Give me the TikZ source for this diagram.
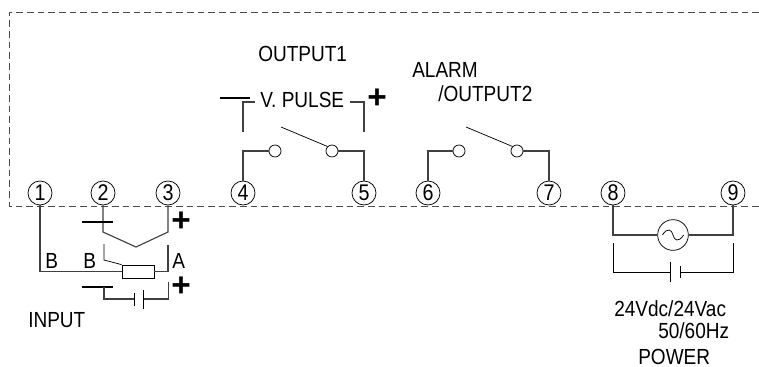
\documentclass[tikz,border=0pt]{standalone}
\usepackage{fontspec}
\setmainfont{Liberation Sans}
\newfontfamily\lbl[FakeStretch=0.87]{Liberation Sans}
\tikzset{
  x=0.75pt,y=-0.75pt,
  wire/.style={draw=black!75,line width=0.85pt},
  thin wire/.style={draw=black,line width=0.55pt},
  heavy/.style={draw=black,line width=2.1pt},
  term/.style={circle,draw=black,line width=0.55pt,fill=white,minimum size=18pt,inner sep=0pt,font=\lbl\fontsize{17}{17}\selectfont},
  contact/.style={circle,draw=black,line width=0.55pt,fill=white,minimum size=9pt,inner sep=0pt},
  lab/.style={inner sep=0pt,font=\lbl\fontsize{16.4}{18}\selectfont,anchor=base west},
  plus/.style={inner sep=0pt,font=\fontsize{25}{25}\bfseries\selectfont}
}
\begin{document}
\begin{tikzpicture}
\useasboundingbox (0,0) rectangle (759,367);
\draw[black!70,line width=0.75pt,dash pattern=on 5pt off 3pt] (759,12.5) -- (9.5,12.5) -- (9.5,206) -- (759,206);
% terminals
\node[term] (t1) at (40,193) {1};
\node[term] (t2) at (103,193) {2};
\node[term] (t3) at (168,193) {3};
\node[term] (t4) at (243,193) {4};
\node[term] (t5) at (364,193) {5};
\node[term] (t6) at (428,193) {6};
\node[term] (t7) at (549,193) {7};
\node[term] (t8) at (613,193) {8};
\node[term] (t9) at (733,193) {9};
% input
\node[draw=black,line width=0.55pt,fill=white,minimum width=24pt,minimum height=9.75pt,inner sep=0pt] (res) at (138,271.5) {};
\draw[wire] (t1.south) |- (res.west);
\draw[wire] (t2.south) -- (103,232) -- (136,247) -- (168,232) -- (t3.south);
\coordinate (a1) at (104,244); \coordinate (a2) at (104,260);
\draw[thin wire] (a1) -- (a2) -- (res.north west);
\coordinate (b1) at (168,245);
\draw[wire] (b1) |- (res.east);
\draw[heavy] (82,222) -- (113,222);
\node[plus] at (181,222) {+};
\node[lab] at (45,268) {B};
\node[lab] at (83,268) {B};
\node[lab] at (172,268) {A};
% input battery
\draw[heavy] (82,287) -- (113,287);
\draw[wire] (104,287) -- (104,299) -- (134,299);
\draw[wire] (143,299) -- (168.5,299) -- (168.5,282);
\draw[thin wire] (134,293) -- (134,306);
\draw[thin wire] (143,290) -- (143,309);
\node[plus] at (181,287) {+};
\node[lab] at (28,327) {INPUT};
% output 1
\node[lab] at (258,62) {OUTPUT1};
\node[lab] at (260,108) {V. PULSE};
\draw[heavy] (220,98) -- (250,98);
\draw[wire] (255,102) -- (243,102) -- (243,132);
\draw[wire] (350,102) -- (364,102) -- (364,132);
\node[plus] at (377,99) {+};
\node[contact] (c4) at (275,151) {};
\node[contact] (c5) at (332,151) {};
\draw[wire] (t4.north) |- (c4.west);
\draw[wire] (t5.north) |- (c5.east);
\coordinate (s1) at (281,127);
\draw[thin wire] (s1) -- (c5.north west);
% output 2
\node[lab] at (412,78) {ALARM};
\node[lab] at (438,102) {/OUTPUT2};
\node[contact] (c6) at (459,151) {};
\node[contact] (c7) at (517,151) {};
\draw[wire] (t6.north) |- (c6.west);
\draw[wire] (t7.north) |- (c7.east);
\coordinate (s2) at (466,127);
\draw[thin wire] (s2) -- (c7.north west);
% power
\node[circle,draw=black,line width=0.55pt,minimum size=23pt,inner sep=0pt] (ac) at (673,235) {};
\draw[thin wire] ([xshift=-8pt]ac.center) .. controls ([xshift=-4pt,yshift=6pt]ac.center) and ([xshift=-1pt,yshift=4pt]ac.center) .. (ac.center) .. controls ([xshift=1pt,yshift=-4pt]ac.center) and ([xshift=4pt,yshift=-6pt]ac.center) .. ([xshift=8pt]ac.center);
\draw[wire] (t8.south) |- (ac.west);
\draw[wire] (t9.south) |- (ac.east);
\coordinate (p1) at (613,243); \coordinate (p2) at (733,243);
\draw[thin wire] (p1) -- (613,272) -- (670,272);
\draw[thin wire] (p2) -- (733,272) -- (680,272);
\draw[thin wire] (670,262) -- (670,282);
\draw[thin wire] (680,266) -- (680,278);
\node[lab] at (614,316) {24Vdc/24Vac};
\node[lab] at (658,338) {50/60Hz};
\node[lab] at (638,364) {POWER};
\end{tikzpicture}
\end{document}
